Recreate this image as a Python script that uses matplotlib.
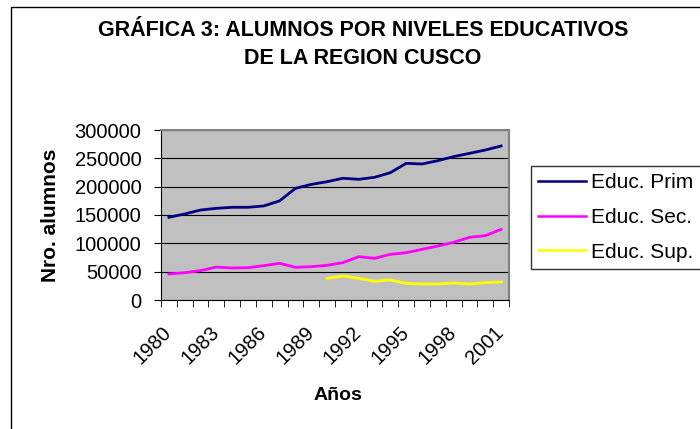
import numpy as np
import matplotlib.pyplot as plt
from matplotlib.patches import Rectangle
from matplotlib.transforms import ScaledTranslation

plt.rcParams['font.family'] = ['Liberation Sans', 'DejaVu Sans']

# datos
anios = [str(a) for a in range(1980, 2002)]
prim = [146000, 151800, 158800, 161800, 163600, 163600, 166000, 175000, 197000, 204000, 208800,
        214800, 213000, 216500, 224700, 241200, 240000, 245900, 253000, 258800, 264700, 271800]
sec = [45900, 48200, 51800, 58200, 56500, 57000, 60600, 64700, 57700, 58800, 61200,
       65900, 76500, 73500, 80600, 83500, 89400, 95300, 101800, 110600, 113500, 124700]
sup = [np.nan] * 10 + [38200, 42400, 38200, 33000, 35300, 29400, 28200, 28200, 30000, 28200, 30600, 31800]
series = ['Educ. Prim', 'Educ. Sec.', 'Educ. Sup.']
colores = ['#000080', '#FF00FF', '#FFFF00']

fig = plt.figure(figsize=(7, 4.29), dpi=100)
fig.patches.append(Rectangle((11 / 700, -0.1), 1.2, 1 - 7 / 429 + 0.1, transform=fig.transFigure,
                             fill=False, edgecolor='black', lw=1))

ax = fig.add_axes([161 / 700, 1 - 300 / 429, 348 / 700, 170 / 429])
ax.set_facecolor('#C0C0C0')

x = np.arange(len(anios))
for vals, nombre, c in zip([prim, sec, sup], series, colores):
    ax.plot(x, vals, color=c, lw=2, label=nombre)

ax.set_xlim(-0.5, len(anios) - 0.5)
ax.set_ylim(0, 300000)
ax.set_yticks(np.arange(0, 300001, 50000))
ax.grid(axis='y', color='black', lw=0.8)
ax.set_axisbelow(True)

ax.set_xticks(np.arange(-0.5, len(anios)), minor=True)
ax.set_xticks(x[::3])
ax.set_xticklabels(anios[::3], rotation=45, ha='right', va='top', rotation_mode='anchor')
ax.tick_params(axis='x', which='major', length=0, pad=8, labelsize=14.5)
ax.tick_params(axis='x', which='minor', length=5, direction='out')
ax.tick_params(axis='y', length=5, direction='out', labelsize=14.5, pad=9)
desplaza = ScaledTranslation(-7 / 100, -12 / 100, fig.dpi_scale_trans)
for lab in ax.get_xticklabels():
    lab.set_transform(lab.get_transform() + desplaza)

for s in ['top', 'right']:
    ax.spines[s].set_color('#808080')
    ax.spines[s].set_linewidth(1.5)

fig.text(363 / 700, 1 - 30 / 429, 'GRÁFICA 3: ALUMNOS POR NIVELES EDUCATIVOS', ha='center', va='center',
         fontsize=15.5, fontweight='bold')
fig.text(363 / 700, 1 - 59 / 429, 'DE LA REGION CUSCO', ha='center', va='center',
         fontsize=15.5, fontweight='bold')
fig.text(338 / 700, 1 - 395 / 429, 'Años', ha='center', va='center', fontsize=14, fontweight='bold')
fig.text(50 / 700, 1 - 215 / 429, 'Nro. alumnos', ha='center', va='center', rotation=90,
         fontsize=15, fontweight='bold')

leg = ax.legend(loc='upper left', bbox_to_anchor=(531 / 700, 1 - 166 / 429), bbox_transform=fig.transFigure,
                fontsize=15, frameon=True, fancybox=False, edgecolor='black', handlelength=2.3,
                borderaxespad=0, labelspacing=0.75, handletextpad=0.25, borderpad=0.35)
leg.get_frame().set_linewidth(1)
for ln in leg.get_lines():
    ln.set_linewidth(1.8)

fig.savefig('out.png', dpi=100, facecolor='white')
